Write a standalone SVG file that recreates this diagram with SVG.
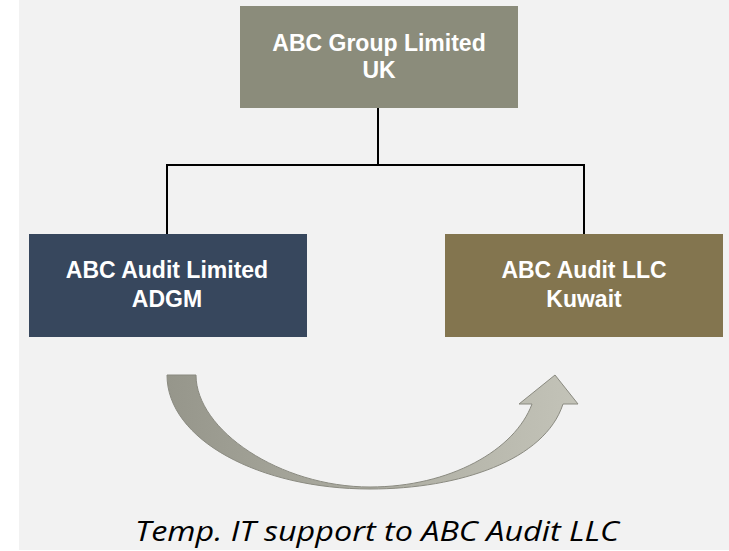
<svg xmlns="http://www.w3.org/2000/svg" width="729" height="551" viewBox="0 0 729 551">
<defs>
<style>
.lbl{font-family:"Liberation Sans",Arial,sans-serif;font-weight:bold;font-size:23px;fill:#ffffff;text-anchor:middle}
.ln{stroke:#000000;stroke-width:2;fill:none}
.cap{font-family:"Open Sans","Noto Sans",sans-serif;font-style:italic;font-size:28px;fill:#000000;text-anchor:middle}
</style>
<linearGradient id="ag" x1="167" y1="0" x2="578" y2="0" gradientUnits="userSpaceOnUse">
<stop offset="0" stop-color="#96968b"/>
<stop offset="1" stop-color="#c3c3b8"/>
</linearGradient>
</defs>
<rect x="0" y="0" width="729" height="551" fill="#ffffff"/>
<rect x="19" y="0" width="710" height="550" fill="#f2f2f2"/>
<g id="connectors">
<path class="ln" d="M378,108 V165 M167,165 H584 M167,164 V234 M584,164 V234"/>
</g>
<g id="node-group">
<rect x="240" y="6" width="278" height="102" fill="#8b8c7b"/>
<text class="lbl" x="379" y="51">ABC Group Limited</text>
<text class="lbl" x="379" y="78">UK</text>
</g>
<g id="node-adgm">
<rect x="29" y="234" width="278" height="103" fill="#37475d"/>
<text class="lbl" x="167" y="278">ABC Audit Limited</text>
<text class="lbl" x="167" y="307">ADGM</text>
</g>
<g id="node-kuwait">
<rect x="445" y="234" width="278" height="103" fill="#83754f"/>
<text class="lbl" x="584" y="278">ABC Audit LLC</text>
<text class="lbl" x="584" y="307">Kuwait</text>
</g>
<g id="arrow">
<path d="M167,375 L196,375 C196,430 280,487 370,487 C450,487 515,450 532,404 L519,404 L555,375 L578,404 L563,404 C545,460 460,489 370,489 C260,489 167,440 167,375 Z" fill="url(#ag)" stroke="#8a8a80" stroke-width="1"/>
</g>
<text class="cap" x="377" y="541" textLength="484" lengthAdjust="spacingAndGlyphs">Temp. IT support to ABC Audit LLC</text>
</svg>
